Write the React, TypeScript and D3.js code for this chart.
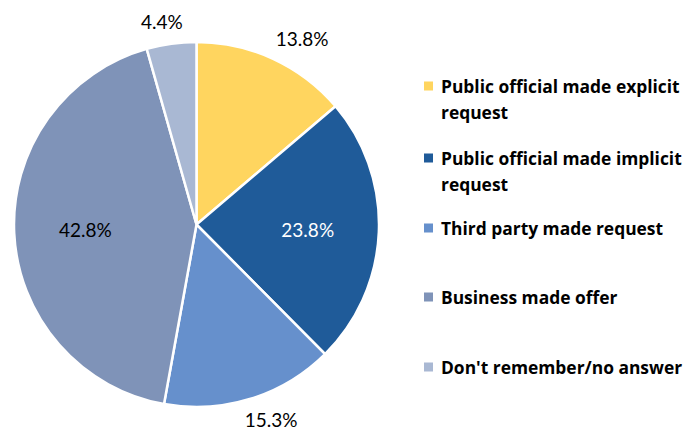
import React from "react";
import * as d3 from "d3";

const categories = [
  "Public official made explicit request",
  "Public official made implicit request",
  "Third party made request",
  "Business made offer",
  "Don't remember/no answer",
];
const values = [13.8, 23.8, 15.3, 42.8, 4.4];
const colors = ["#FFD55F", "#1F5B99", "#6690CC", "#7F93B8", "#A9B8D3"];
const legendLines = [
  ["Public official made explicit", "request"],
  ["Public official made implicit", "request"],
  ["Third party made request"],
  ["Business made offer"],
  ["Don't remember/no answer"],
];
const insideLabel = [false, true, false, true, false];
const labelColor = ["#000", "#fff", "#000", "#000", "#000"];

export default function App() {
  const W = 700, H = 432;
  const cx = 196.5, cy = 224.5, R = 182.5;
  const pie = d3.pie<number>().value((d) => d).sort(null);
  const arcs = pie(values);
  const arc = d3.arc<d3.PieArcDatum<number>>().innerRadius(0).outerRadius(R);
  const font = "Lato, 'Open Sans', sans-serif";
  const legendFont = "'Open Sans', sans-serif";
  const legendYs = [86, 158, 228, 297, 367];
  return (
    <svg width={W} height={H} style={{ position: "absolute", left: 0, top: 0 }}>
      <rect width={W} height={H} fill="#fff" />
      <g transform={`translate(${cx},${cy})`}>
        {arcs.map((a, i) => (
          <path key={i} d={arc(a) || ""} fill={colors[i]} stroke="#fff" strokeWidth={2.5} />
        ))}
        {arcs.map((a, i) => {
          const mid = (a.startAngle + a.endAngle) / 2;
          const s = Math.sin(mid), c = -Math.cos(mid);
          let x: number, y: number;
          if (insideLabel[i]) {
            const r = R * 0.61;
            x = s * r; y = c * r;
          } else {
            const r = R + 14;
            x = s * r + s * 55; y = c * r + c * 8;
          }
          return (
            <text key={i} x={x} y={y} textAnchor="middle" dominantBaseline="central"
              fontFamily={font} fontSize={19} fill={labelColor[i]}>
              {values[i].toFixed(1)}%
            </text>
          );
        })}
      </g>
      <g>
        {categories.map((c, i) => {
          const y0 = legendYs[i];
          return (
            <g key={c}>
              <rect x={424} y={y0 - 4.5} width={9} height={9} fill={colors[i]} />
              {legendLines[i].map((l, j) => (
                <text key={j} x={441} y={y0 + j * 26} dominantBaseline="central"
                  fontFamily={legendFont} fontWeight="bold" fontSize={17.4} fill="#000">
                  {l}
                </text>
              ))}
            </g>
          );
        })}
      </g>
    </svg>
  );
}
